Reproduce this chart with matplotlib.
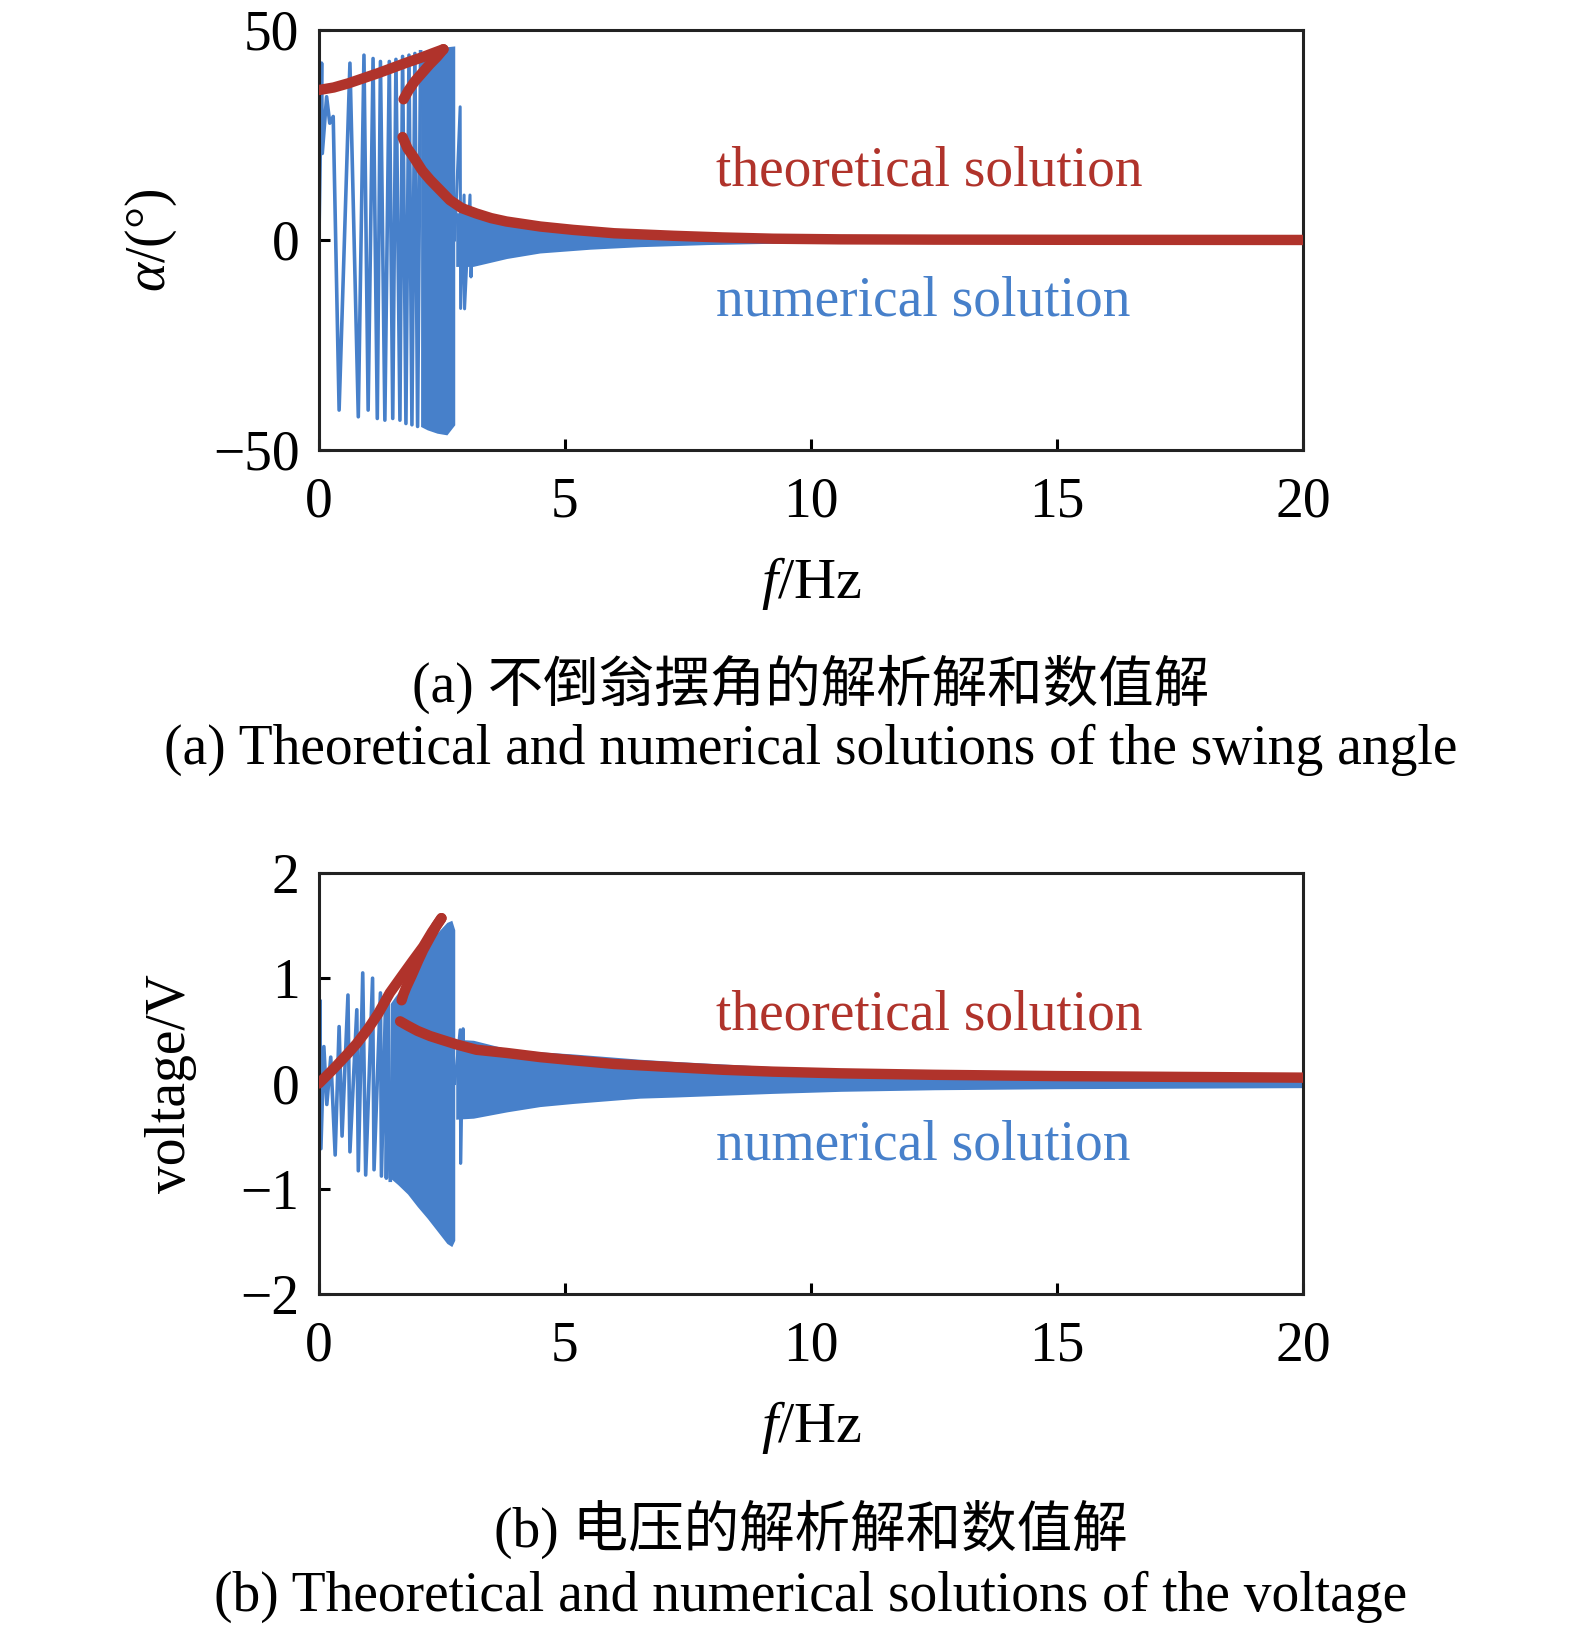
import numpy as np
import matplotlib
matplotlib.use('Agg')
import matplotlib.pyplot as plt

plt.rcParams['font.family'] = ['Liberation Serif', 'Noto Sans CJK SC']
plt.rcParams['mathtext.fontset'] = 'custom'
plt.rcParams['mathtext.rm'] = 'Liberation Serif'
plt.rcParams['mathtext.it'] = 'Liberation Serif:italic'

blue = '#4780ca'
red = '#b0332b'

# ---- (a) swing angle ----
# theoretical solution, three branches
a_up_f = [0.0, 0.3, 0.6, 0.9, 1.2, 1.5, 1.8, 2.1, 2.3, 2.53]
a_up_v = [35.7, 36.3, 37.3, 38.5, 39.7, 41.0, 42.3, 43.5, 44.4, 45.4]
a_mid_f = [2.53, 2.4, 2.25, 2.1, 1.95, 1.82, 1.72]
a_mid_v = [45.4, 43.6, 41.8, 39.8, 37.8, 35.6, 33.5]
a_low_f = [1.70, 1.80, 1.92, 2.1, 2.26, 2.46, 2.66, 2.9, 3.2, 3.5, 3.81, 4.5,
           5.17, 6.0, 7.2, 8.2, 9.23, 10.6, 12.5, 15, 17.5, 20]
a_low_v = [24.5, 21.8, 19.8, 16.5, 14.3, 11.9, 9.5, 7.6, 6.3, 5.2, 4.4, 3.2,
           2.4, 1.6, 1.0, 0.6, 0.3, 0.15, 0.08, 0.04, 0.02, 0.0]

# numerical solution: peaks of the slow sweep part
a_num_f = [0.0, 0.054, 0.068, 0.156, 0.22, 0.29, 0.41, 0.63, 0.80, 0.915, 1.0,
           1.10, 1.186, 1.25, 1.34, 1.43, 1.50, 1.565, 1.646, 1.70, 1.768,
           1.83, 1.89, 1.95, 2.005, 2.066]
a_num_v = [0.0, 42.1, 20.6, 34.1, 27.8, 29.4, -40.5, 42.1, -42.1, 44.0, -40.5,
           43.2, -42.5, 42.5, -42.9, 42.5, -42.5, 43.0, -42.9, 43.7, -43.7,
           44.0, -44.0, 44.4, -44.4, 44.8]
# dense part, envelope
a_den_f = [2.066, 2.2, 2.4, 2.6, 2.76]
a_den_hi = [44.8, 45.2, 45.6, 46.0, 46.2]
a_den_lo = [-44.4, -45.2, -46.0, -46.4, -44.0]
# spikes right after the jump
a_jump_f = [2.76, 2.87, 2.88, 2.95, 2.96, 3.07, 3.09, 3.12]
a_jump_v = [0.0, 31.7, -16.3, 10.7, -16.4, 10.7, -8.8, 0.0]
# decaying tail, envelope
a_tail_f = [2.78, 3.13, 3.82, 4.49, 5.51, 6.52, 7.88, 9.22, 10.6, 12.5, 15, 17.5, 20]
a_tail_hi = [6.5, 6.3, 4.5, 3.3, 2.2, 1.5, 1.0, 0.7, 0.45, 0.3, 0.15, 0.1, 0.05]
a_tail_lo = [-6.3, -6.3, -4.4, -3.1, -2.2, -1.6, -1.1, -0.79, -0.48, -0.3, -0.15, -0.1, -0.05]

# ---- (b) voltage ----
b_up_f = [0.0, 0.3, 0.6, 0.77, 1.0, 1.2, 1.44, 1.7, 1.9, 2.12, 2.3, 2.49]
b_up_v = [0.0, 0.14, 0.29, 0.38, 0.52, 0.66, 0.86, 1.03, 1.16, 1.30, 1.44, 1.57]
b_mid_f = [2.49, 2.39, 2.26, 2.12, 2.02, 1.88, 1.78, 1.72, 1.68]
b_mid_v = [1.57, 1.50, 1.39, 1.27, 1.17, 1.02, 0.92, 0.85, 0.79]
b_low_f = [1.65, 1.8, 2.0, 2.26, 2.46, 2.8, 3.2, 3.81, 4.5, 5.17, 6.0, 7.2,
           8.2, 9.23, 10.6, 12.5, 15, 17.5, 20]
b_low_v = [0.59, 0.55, 0.50, 0.45, 0.42, 0.37, 0.32, 0.29, 0.25, 0.22, 0.185,
           0.155, 0.13, 0.112, 0.096, 0.082, 0.07, 0.062, 0.055]

b_num_f = [0.0, 0.02, 0.04, 0.10, 0.16, 0.24, 0.33, 0.41, 0.47, 0.59, 0.63,
           0.77, 0.80, 0.89, 0.95, 1.09, 1.12, 1.25, 1.27, 1.35, 1.37, 1.41, 1.45]
b_num_v = [0.0, 0.79, -0.62, 0.35, -0.20, 0.25, -0.68, 0.54, -0.50, 0.84, -0.65,
           0.70, -0.83, 1.05, -0.87, 1.00, -0.82, 0.86, -0.88, 0.70, -0.90, 0.76, -0.92]
b_den_f = [1.45, 1.6, 1.8, 2.0, 2.2, 2.4, 2.6, 2.7, 2.76]
b_den_hi = [0.76, 0.86, 0.98, 1.15, 1.31, 1.43, 1.53, 1.55, 1.46]
b_den_lo = [-0.90, -0.96, -1.05, -1.17, -1.28, -1.40, -1.52, -1.55, -1.49]
b_jump_f = [2.76, 2.87, 2.88, 2.93, 2.95]
b_jump_v = [0.0, 0.51, -0.76, 0.52, 0.0]
b_tail_f = [2.78, 3.14, 3.82, 4.49, 5.17, 6.52, 7.2, 9.2, 10.6, 12.5, 15, 17.5, 20]
b_tail_hi = [0.42, 0.41, 0.33, 0.30, 0.28, 0.23, 0.21, 0.16, 0.13, 0.11, 0.095, 0.085, 0.075]
b_tail_lo = [-0.34, -0.33, -0.27, -0.22, -0.19, -0.14, -0.13, -0.095, -0.075, -0.06, -0.05, -0.045, -0.04]

xticks = [0, 5, 10, 15, 20]

fig = plt.figure(figsize=(15.75, 16.28), dpi=100)
ax1 = fig.add_axes([0.2025, 0.7236, 0.6248, 0.258])
ax2 = fig.add_axes([0.2025, 0.2052, 0.6248, 0.2586])


def draw_panel(ax, num, den, jump, tail, branches, ylim, yticks):
    ax.plot(num[0], num[1], color=blue, lw=2.6, zorder=2)
    ax.fill_between(den[0], den[1], den[2], color=blue, lw=0, zorder=2)
    ax.plot(jump[0], jump[1], color=blue, lw=2.2, zorder=2)
    ax.fill_between(tail[0], tail[1], tail[2], color=blue, lw=0, zorder=2)
    for bf, bv in branches:
        ax.plot(bf, bv, color=red, lw=7.5, solid_capstyle='round',
                solid_joinstyle='round', zorder=3)
    ax.set_xlim(0, 20)
    ax.set_ylim(*ylim)
    ax.set_xticks(xticks)
    ax.set_yticks(yticks)
    ax.tick_params(direction='in', length=8, width=2.2, labelsize=40, pad=14)
    ax.tick_params(axis='x', pad=19)
    for s in ax.spines.values():
        s.set_linewidth(2.2)
        s.set_color('#222222')


draw_panel(ax1, (a_num_f, a_num_v), (a_den_f, a_den_hi, a_den_lo),
           (a_jump_f, a_jump_v), (a_tail_f, a_tail_hi, a_tail_lo),
           [(a_up_f, a_up_v), (a_mid_f, a_mid_v), (a_low_f, a_low_v)],
           (-50, 50), [-50, 0, 50])
draw_panel(ax2, (b_num_f, b_num_v), (b_den_f, b_den_hi, b_den_lo),
           (b_jump_f, b_jump_v), (b_tail_f, b_tail_hi, b_tail_lo),
           [(b_up_f, b_up_v), (b_mid_f, b_mid_v), (b_low_f, b_low_v)],
           (-2, 2), [-2, -1, 0, 1, 2])

ax1.text(0.404, 0.664, 'theoretical solution', color=red, fontsize=40,
         transform=ax1.transAxes, va='center')
ax1.text(0.404, 0.354, 'numerical solution', color=blue, fontsize=40,
         transform=ax1.transAxes, va='center')
ax2.text(0.404, 0.662, 'theoretical solution', color=red, fontsize=40,
         transform=ax2.transAxes, va='center')
ax2.text(0.404, 0.352, 'numerical solution', color=blue, fontsize=40,
         transform=ax2.transAxes, va='center')

ax1.set_ylabel(r'$\alpha$/(°)', fontsize=40)
ax1.yaxis.set_label_coords(-0.1426, 0.5)
ax2.set_ylabel('voltage/V', fontsize=40)
ax2.yaxis.set_label_coords(-0.1236, 0.5)

W, H = 1575, 1628
fig.text(811 / W, 1 - 584 / H, r'$f$/Hz', fontsize=42, ha='center', va='center')
fig.text(811 / W, 1 - 1428 / H, r'$f$/Hz', fontsize=42, ha='center', va='center')
fig.text(811 / W, 1 - 684 / H, '(a) 不倒翁摆角的解析解和数值解', fontsize=40,
         ha='center', va='center')
fig.text(811 / W, 1 - 750 / H, '(a) Theoretical and numerical solutions of the swing angle',
         fontsize=40, ha='center', va='center')
fig.text(811 / W, 1 - 1529 / H, '(b) 电压的解析解和数值解', fontsize=40,
         ha='center', va='center')
fig.text(811 / W, 1 - 1597 / H, '(b) Theoretical and numerical solutions of the voltage',
         fontsize=40, ha='center', va='center')

fig.savefig('out.png', dpi=100)
